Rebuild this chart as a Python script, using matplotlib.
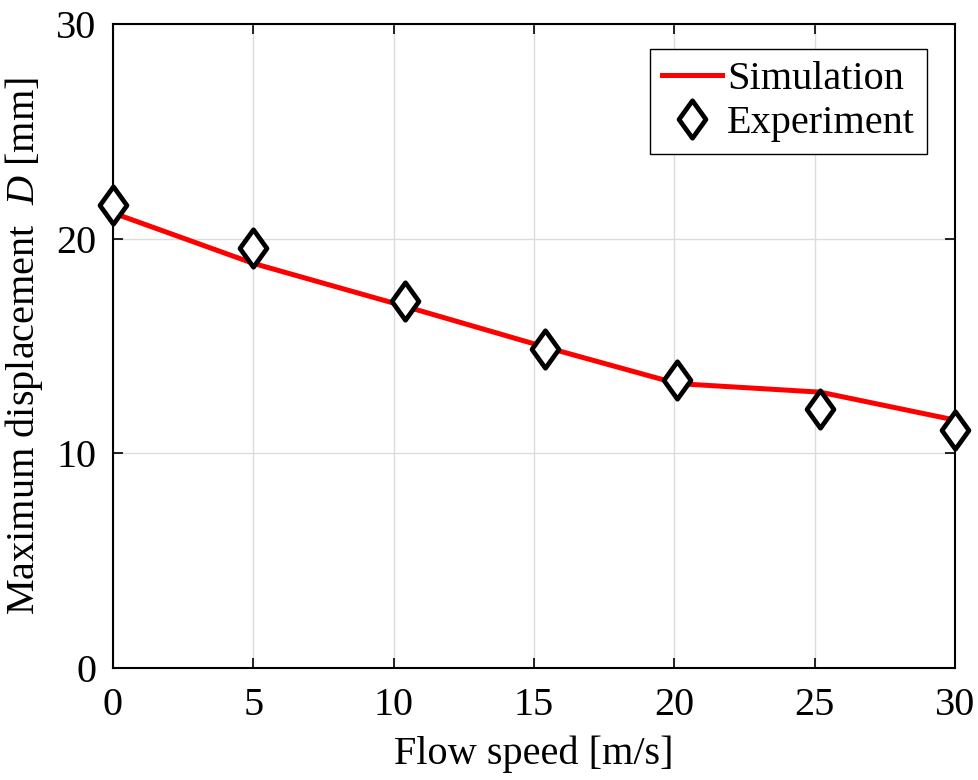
import matplotlib
matplotlib.use("Agg")
import matplotlib.pyplot as plt
from matplotlib.path import Path

plt.rcParams['font.family'] = ['Liberation Serif', 'DejaVu Serif']
plt.rcParams['mathtext.fontset'] = 'custom'
plt.rcParams['mathtext.rm'] = 'Liberation Serif'
plt.rcParams['mathtext.it'] = 'Liberation Serif:italic'

speed = [0, 5, 10.4, 15.4, 20.1, 25.2, 30]
simulation = [21.2, 18.85, 16.85, 14.95, 13.25, 12.85, 11.55]
experiment = [21.56, 19.55, 17.1, 14.86, 13.4, 12.05, 11.1]
xticks = [0, 5, 10, 15, 20, 25, 30]
yticks = [0, 10, 20, 30]

diamond = Path([(0, 1), (0.72, 0), (0, -1), (-0.72, 0), (0, 1)],
               [Path.MOVETO, Path.LINETO, Path.LINETO, Path.LINETO, Path.CLOSEPOLY])

fig = plt.figure(figsize=(9.79, 7.8), dpi=100)
ax = fig.add_axes([0.1154, 0.1436, 0.8601, 0.8256])

ax.plot(speed, simulation, color='#ff0000', lw=3.6, label='Simulation', zorder=3)
ax.plot(speed, experiment, ls='none', marker=diamond, ms=27, mfc='white',
        mec='black', mew=3.4, label='Experiment', zorder=4, clip_on=False)

ax.set_xlim(0, 30)
ax.set_ylim(0, 30)
ax.set_xticks(xticks)
ax.set_yticks(yticks)
ax.grid(True, color='#dcdcdc', lw=1.0)
ax.set_axisbelow(True)
ax.tick_params(direction='in', length=7, width=1.2, top=True, right=True,
               labelsize=29)
ax.tick_params(axis='x', pad=14)
ax.tick_params(axis='y', pad=12)
for s in ax.spines.values():
    s.set_linewidth(1.5)

ax.set_xlabel('Flow speed [m/s]', fontsize=29, labelpad=8)
ax.set_ylabel('Maximum displacement  $\\mathit{D}$ [mm]', fontsize=29, labelpad=8)

leg = ax.legend(loc='upper right', fontsize=29, fancybox=False, framealpha=1,
                edgecolor='black', handlelength=1.5, handletextpad=0.12,
                borderpad=0.3, labelspacing=0.15, borderaxespad=0.0,
                bbox_to_anchor=(0.967, 0.961))
leg.get_frame().set_linewidth(1.0)

fig.savefig('out.png', dpi=100)
